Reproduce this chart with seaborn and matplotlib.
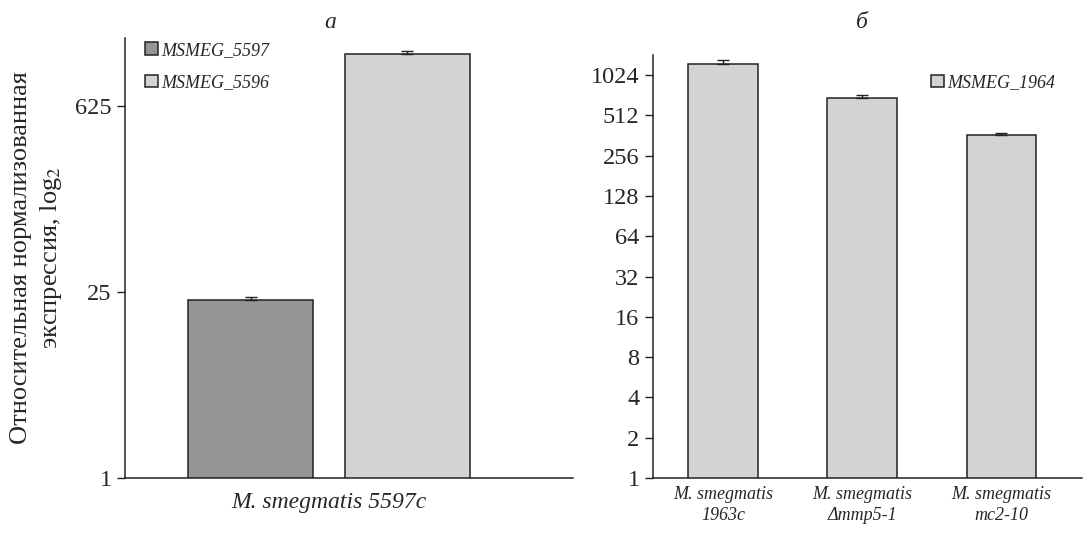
import numpy as np
import pandas as pd
import seaborn as sns
import matplotlib
matplotlib.use("Agg")
import matplotlib.pyplot as plt
from matplotlib.patches import Patch
from matplotlib.ticker import FixedLocator, NullLocator

# panel a data
strain_a = ['M. smegmatis 5597c']
genes_a = ['MSMEG_5597', 'MSMEG_5596']
values_a = [21.8, 1550]
errors_a = [1.1, 70]

# panel b data
strains_b = ['M. smegmatis\n1963c', 'M. smegmatis\nΔmmp5-1', 'M. smegmatis\nmc2-10']
values_b = [1238, 693, 365]
errors_b = [100, 29, 15]
gene_b = 'MSMEG_1964'

ticks_a = [1, 25, 625]
ticks_b = [1, 2, 4, 8, 16, 32, 64, 128, 256, 512, 1024]

dark = '#939598'
light = '#d1d3d4'

sns.set_style('ticks')
plt.rcParams['font.family'] = ['Liberation Serif', 'DejaVu Serif']
plt.rcParams['mathtext.fontset'] = 'stix'

fig = plt.figure(figsize=(10.88, 5.57), dpi=100)
ax1 = fig.add_axes([0.1149, 0.1418, 0.4118, 0.79])
ax2 = fig.add_axes([0.5999, 0.1418, 0.3946, 0.7594])

# --- panel a
df_a = pd.DataFrame({'strain': strain_a * 2, 'gene': genes_a, 'value': values_a})
sns.barplot(data=df_a, x='strain', y='value', hue='gene', palette=[dark, light],
            edgecolor='#222222', linewidth=1.1, gap=0.2, errorbar=None, ax=ax1)
for bar, err in zip(ax1.patches, errors_a):
    cx = bar.get_x() + bar.get_width() / 2
    ax1.errorbar(cx, bar.get_height(), yerr=[[0], [err]], color='#222222',
                 capsize=4, elinewidth=1, capthick=1)
ax1.set_yscale('log', base=25)
ax1.set_ylim(1, 2030)
ax1.set_xlim(-0.52, 0.622)
ax1.yaxis.set_major_locator(FixedLocator(ticks_a))
ax1.yaxis.set_minor_locator(NullLocator())
ax1.set_yticklabels([str(t) for t in ticks_a], fontsize=17.5)
ax1.tick_params(axis='x', length=0, pad=10)
ax1.tick_params(axis='y', length=6, width=1, color='#222222')
for lab in ax1.get_xticklabels():
    lab.set_fontsize(17)
    lab.set_fontstyle('italic')
ax1.set_xlabel('')
ax1.set_ylabel('Относительная нормализованная\nэкспрессия, log$_2$', fontsize=19,
               labelpad=8, linespacing=1.32)
h, l = ax1.get_legend_handles_labels()
ax1.legend(h, l, loc='upper left', bbox_to_anchor=(0.013, 1.024), frameon=False,
           prop={'style': 'italic', 'size': 13}, handlelength=0.7, handleheight=0.7,
           handletextpad=0.2, labelspacing=0.85, borderaxespad=0.4)
sns.despine(ax=ax1)

# --- panel b
df_b = pd.DataFrame({'strain': strains_b, 'value': values_b})
sns.barplot(data=df_b, x='strain', y='value', color=light, saturation=1,
            edgecolor='#222222', linewidth=1.1, width=0.5, errorbar=None, ax=ax2)
for bar, err in zip(ax2.patches, errors_b):
    cx = bar.get_x() + bar.get_width() / 2
    ax2.errorbar(cx, bar.get_height(), yerr=[[0], [err]], color='#222222',
                 capsize=4, elinewidth=1, capthick=1)
ax2.set_yscale('log', base=2)
ax2.set_ylim(1, 1448)
ax2.set_xlim(-0.506, 2.58)
ax2.yaxis.set_major_locator(FixedLocator(ticks_b))
ax2.yaxis.set_minor_locator(NullLocator())
ax2.set_yticklabels([str(t) for t in ticks_b], fontsize=17.5)
ax2.tick_params(axis='x', length=0, pad=6)
ax2.tick_params(axis='y', length=6, width=1, color='#222222')
for lab in ax2.get_xticklabels():
    lab.set_fontsize(13)
    lab.set_fontstyle('italic')
    lab.set_linespacing(1.25)
ax2.set_xlabel('')
ax2.set_ylabel('')
ax2.legend(handles=[Patch(facecolor=light, edgecolor='#222222', linewidth=1.1, label=gene_b)],
           loc='upper right', bbox_to_anchor=(0.976, 0.993), frameon=False,
           prop={'style': 'italic', 'size': 13}, handlelength=0.7, handleheight=0.7,
           handletextpad=0.2)
sns.despine(ax=ax2)

for ax in (ax1, ax2):
    for s in ('left', 'bottom'):
        ax.spines[s].set_color('#222222')
        ax.spines[s].set_linewidth(1.1)

fig.text(0.3033, 0.96, 'а', ha='center', va='center', fontsize=17, style='italic')
fig.text(0.792, 0.96, 'б', ha='center', va='center', fontsize=17, style='italic')

fig.savefig('out.png', dpi=100)
